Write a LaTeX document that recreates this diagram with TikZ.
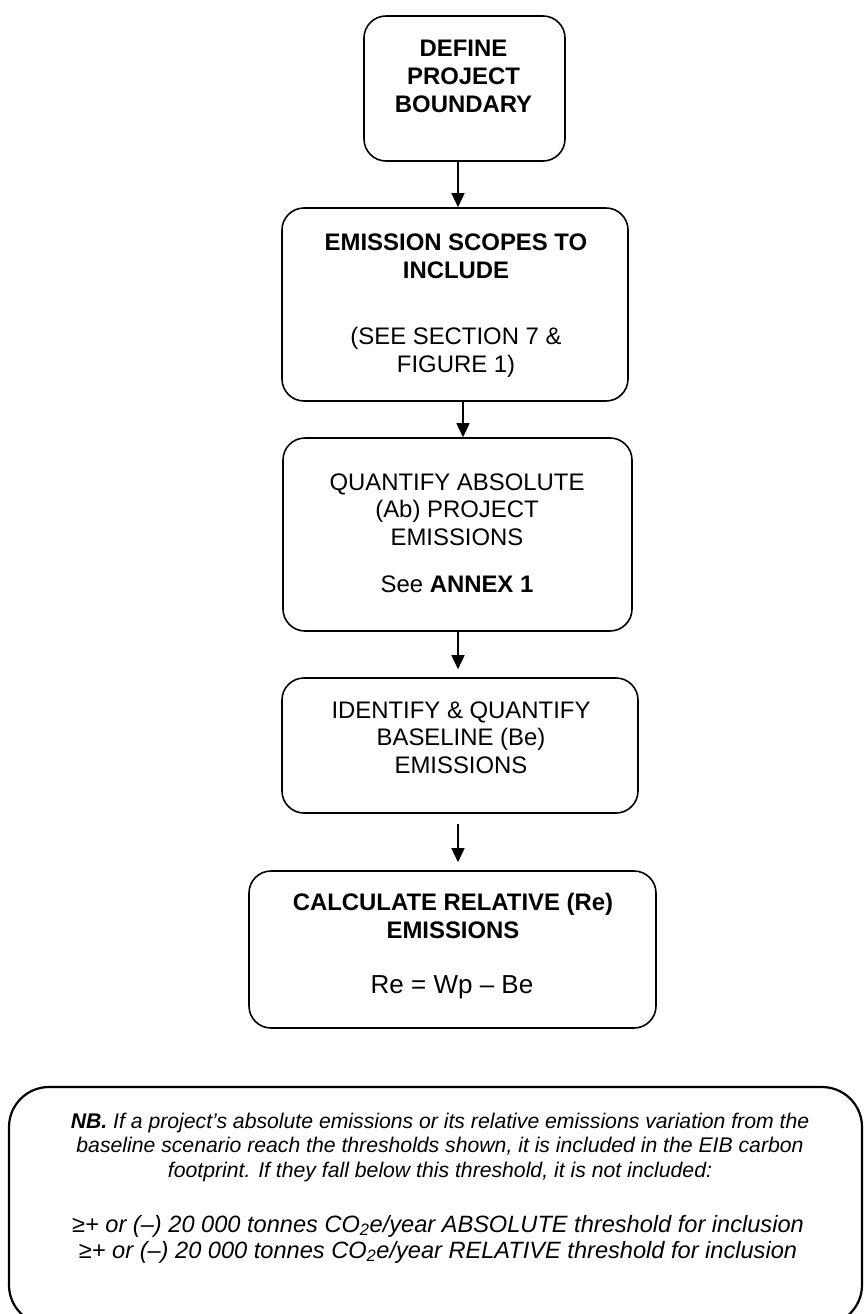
\documentclass[tikz,border=0pt]{standalone}
\usepackage{fontspec}
\setmainfont{Liberation Sans}
\usetikzlibrary{arrows.meta}
\begin{document}
\begin{tikzpicture}[x=1pt,y=-1pt,
  box/.style={draw, line width=1.6pt, rounded corners=22pt, inner sep=0pt},
  txt/.style={align=center, anchor=base, inner sep=0pt, font=\fontsize{23.9}{27.5}\selectfont},
  nbtxt/.style={align=center, anchor=base, inner sep=0pt, font=\fontsize{21.2}{24.5}\selectfont\itshape},
  thtxt/.style={align=center, anchor=base, inner sep=0pt, font=\fontsize{23.6}{26}\selectfont\itshape},
  arr/.style={line width=1.6pt, -{Triangle[width=13pt,length=14pt]}}]
\useasboundingbox (0,0) rectangle (863,1314);
% boxes
\node[box, minimum width=201pt, minimum height=145pt] (b1) at (464.5,88.5) {};
\node[box, minimum width=346pt, minimum height=193pt] (b2) at (455,304.5) {};
\node[box, minimum width=349pt, minimum height=193pt] (b3) at (457.5,534.5) {};
\node[box, minimum width=356pt, minimum height=135pt] (b4) at (460,745.5) {};
\node[box, minimum width=407pt, minimum height=157pt] (b5) at (452.5,949.5) {};
\node[box, line width=2.2pt, rounded corners=40pt, minimum width=853pt, minimum height=238pt] (nb) at (435.5,1206) {};
% texts (anchor base = baseline of last line)
\node[txt] (t1) at (463.5,112) {\bfseries DEFINE\\\bfseries PROJECT\\\bfseries BOUNDARY};
\node[txt] (t2a) at (456,278) {\bfseries EMISSION SCOPES TO\\\bfseries INCLUDE};
\node[txt] (t2b) at (456,372) {(SEE SECTION 7 \&\\FIGURE 1)};
\node[txt] (t3a) at (457,545) {QUANTIFY ABSOLUTE\\(Ab) PROJECT\\EMISSIONS};
\node[txt] (t3b) at (457,592) {See \textbf{ANNEX 1}};
\node[txt] (t4) at (461,773) {IDENTIFY \& QUANTIFY\\BASELINE (Be)\\EMISSIONS};
\node[txt] (t5a) at (453,938) {\bfseries CALCULATE RELATIVE (Re)\\\bfseries EMISSIONS};
\node[txt, font=\fontsize{26}{30}\selectfont] (t5b) at (452,993) {Re = Wp – Be};
\node[nbtxt] (nbt) at (440,1177) {\textbf{NB.} If a project’s absolute emissions or its relative emissions variation from the\\baseline scenario reach the thresholds shown, it is included in the EIB carbon\\footprint. If they fall below this threshold, it is not included:};
\node[thtxt] (tht) at (438,1258) {≥+ or (–) 20 000 tonnes CO\textsubscript{2}e/year ABSOLUTE threshold for inclusion\\≥+ or (–) 20 000 tonnes CO\textsubscript{2}e/year RELATIVE threshold for inclusion};
% arrows
\draw[arr] ([xshift=-6.5pt]b1.south) -- ([xshift=3pt]b2.north);
\draw[arr] ([xshift=8pt]b2.south) -- ([xshift=5.5pt]b3.north);
\draw[arr, shorten >=8pt] ([xshift=0.5pt]b3.south) -- ([xshift=-2pt]b4.north);
\draw[arr, shorten <=10pt, shorten >=8pt] ([xshift=-2pt]b4.south) -- ([xshift=5.5pt]b5.north);
\end{tikzpicture}
\end{document}
